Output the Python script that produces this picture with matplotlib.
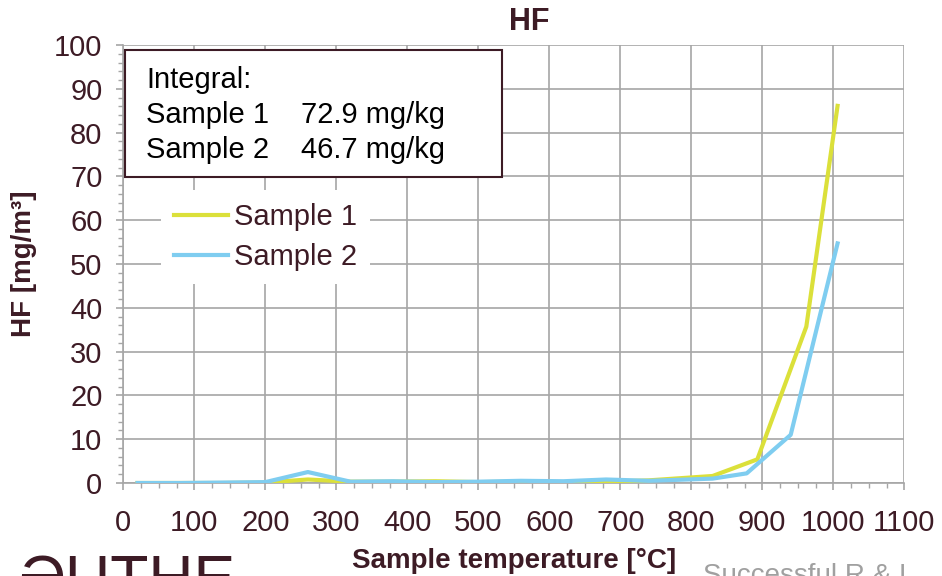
import matplotlib
matplotlib.use('Agg')
import matplotlib.pyplot as plt
from matplotlib.patches import Rectangle
from matplotlib.ticker import MultipleLocator

# HF concentration vs. sample temperature
temp_s1 = [20, 80, 140, 200, 260, 320, 380, 440, 500, 560, 620, 680, 740, 830, 893, 962, 1006]
hf_s1 = [0.0, 0.0, 0.0, 0.1, 0.8, 0.3, 0.3, 0.4, 0.2, 0.3, 0.2, 0.3, 0.6, 1.6, 5.4, 35.7, 86.1]

temp_s2 = [20, 80, 140, 200, 260, 320, 380, 440, 500, 560, 620, 680, 740, 830, 878, 940, 1006]
hf_s2 = [0.0, 0.0, 0.1, 0.2, 2.5, 0.3, 0.4, 0.2, 0.3, 0.5, 0.4, 0.8, 0.5, 1.0, 2.2, 11.0, 54.7]

labels = ['Sample 1', 'Sample 2']
integrals = ['72.9 mg/kg', '46.7 mg/kg']

x_ticks = list(range(0, 1101, 100))
y_ticks = list(range(0, 101, 10))

maroon = '#3d1b25'
grid_c = '#a6a6a6'

plt.rcParams['font.family'] = ['Liberation Sans', 'DejaVu Sans']

fig = plt.figure(figsize=(9.42, 5.76), dpi=100)
ax = fig.add_axes([123.3 / 942, 93 / 576, 781 / 942, 438 / 576])

ax.plot(temp_s1, hf_s1, color='#dbe03a', lw=3, label=labels[0], zorder=3)
ax.plot(temp_s2, hf_s2, color='#7fcdf0', lw=3, label=labels[1], zorder=4)

ax.set_xlim(0, 1100)
ax.set_ylim(0, 100)
ax.set_xticks(x_ticks)
ax.set_yticks(y_ticks)
ax.xaxis.set_minor_locator(MultipleLocator(25))
ax.yaxis.set_minor_locator(MultipleLocator(2))
ax.grid(True, which='major', color=grid_c, lw=1.2)
ax.set_axisbelow(True)
ax.tick_params(which='both', direction='out', color=grid_c, labelcolor=maroon, labelsize=21)
ax.tick_params(which='major', length=5, width=1.2)
ax.tick_params(which='minor', length=3.5, width=1)
ax.tick_params(axis='x', which='major', pad=14)
ax.tick_params(axis='y', which='major', pad=10)
for s in ['top', 'right']:
    ax.spines[s].set_visible(False)
for s in ['left', 'bottom']:
    ax.spines[s].set_color(grid_c)
    ax.spines[s].set_linewidth(1.2)

ax.set_xlabel('Sample temperature [°C]', fontsize=20, fontweight='bold', color=maroon, labelpad=8)
ax.set_ylabel('HF [mg/m³]', fontsize=20, fontweight='bold', color=maroon, labelpad=12)
fig.text(529 / 942, 1 - 22 / 576, 'HF', fontsize=22, fontweight='bold', color=maroon,
         ha='center', va='center')

# integral box
ax.add_patch(Rectangle((0.002, 0.699), 0.483, 0.2895, transform=ax.transAxes,
                       facecolor='white', edgecolor=maroon, lw=1.5, zorder=6))
ax.text(0.029, 0.92, 'Integral:', transform=ax.transAxes, fontsize=21, va='center', zorder=7)
for i, (lab, val) in enumerate(zip(labels, integrals)):
    yy = 0.84 - 0.08 * i
    ax.text(0.029, yy, lab, transform=ax.transAxes, fontsize=21, va='center', zorder=7)
    ax.text(0.2275, yy, val, transform=ax.transAxes, fontsize=21, va='center', zorder=7)

leg = ax.legend(loc='upper left', bbox_to_anchor=(0.048, 0.669), borderaxespad=0,
                fontsize=21, handlelength=1.85, handletextpad=0.2, labelspacing=0.4,
                borderpad=0.45, frameon=True, fancybox=False)
leg.get_frame().set_edgecolor('none')
leg.get_frame().set_facecolor('white')
leg.get_frame().set_alpha(1)
for t in leg.get_texts():
    t.set_color(maroon)

# slide footer remnants
fig.text(18 / 942, 1 - 553 / 576, 'ƏUTHE', fontsize=45, color=maroon, va='top', ha='left')
fig.text(703 / 942, 1 - 563 / 576, 'Successful R & I', fontsize=20, color='#a0a0a0',
         va='top', ha='left')

fig.savefig('out.png', dpi=100)
